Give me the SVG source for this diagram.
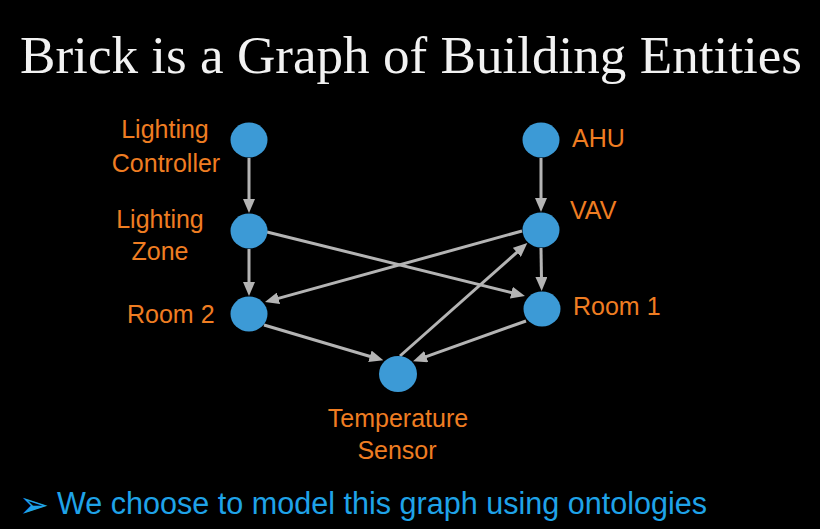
<svg xmlns="http://www.w3.org/2000/svg" width="820" height="529" viewBox="0 0 820 529">
<style>
.node{fill:#3c9ad6}
.lbl{font-family:"Liberation Sans",Arial,sans-serif;font-size:25px;fill:#ef7d22}
.edge{stroke:#b4b4b4;stroke-width:3;fill:none;marker-end:url(#ah)}
</style>
<defs>
<marker id="ah" viewBox="0 0 14 12" refX="3" refY="6" markerWidth="14" markerHeight="12" markerUnits="userSpaceOnUse" orient="auto">
<path d="M0,0 L14,6 L0,12 z" fill="#b4b4b4"/>
</marker>
</defs>
<rect width="820" height="529" fill="#000"/>
<text x="20" y="73" font-family="Liberation Serif,serif" font-size="52" fill="#f2f2f2" textLength="782" lengthAdjust="spacingAndGlyphs">Brick is a Graph of Building Entities</text>
<g id="connectors">
<line class="edge" x1="249" y1="158" x2="249" y2="202"/>
<line class="edge" x1="249" y1="249" x2="249" y2="285"/>
<line class="edge" x1="541" y1="158" x2="541" y2="201"/>
<line class="edge" x1="541" y1="248" x2="541.5" y2="280"/>
<line class="edge" x1="267" y1="232" x2="514.3" y2="293.3"/>
<line class="edge" x1="522" y1="231" x2="275.6" y2="299.1"/>
<line class="edge" x1="264" y1="325" x2="372.8" y2="357.2"/>
<line class="edge" x1="526" y1="321" x2="423.4" y2="357.6"/>
<line class="edge" x1="400" y1="356" x2="519.1" y2="250.4"/>
</g>
<g id="lighting-controller">
<ellipse class="node" cx="249" cy="140" rx="18.5" ry="17.5"/>
<text class="lbl" x="165" y="138" text-anchor="middle">Lighting</text>
<text class="lbl" x="166" y="172" text-anchor="middle">Controller</text>
</g>
<g id="lighting-zone">
<ellipse class="node" cx="249" cy="231" rx="18.5" ry="17.5"/>
<text class="lbl" x="160" y="228" text-anchor="middle">Lighting</text>
<text class="lbl" x="160" y="260" text-anchor="middle">Zone</text>
</g>
<g id="room-2">
<ellipse class="node" cx="249" cy="314" rx="18.5" ry="17.5"/>
<text class="lbl" x="127" y="323">Room 2</text>
</g>
<g id="ahu">
<ellipse class="node" cx="541" cy="140" rx="18.5" ry="17.5"/>
<text class="lbl" x="572" y="147">AHU</text>
</g>
<g id="vav">
<ellipse class="node" cx="541" cy="230" rx="18.5" ry="17.5"/>
<text class="lbl" x="570" y="219">VAV</text>
</g>
<g id="room-1">
<ellipse class="node" cx="542" cy="309" rx="18.5" ry="17.5"/>
<text class="lbl" x="573" y="315">Room 1</text>
</g>
<g id="temperature-sensor">
<ellipse class="node" cx="398" cy="374" rx="19" ry="18"/>
<text class="lbl" x="398" y="427" text-anchor="middle">Temperature</text>
<text class="lbl" x="397" y="459" text-anchor="middle">Sensor</text>
</g>
<text x="19" y="517" font-family="DejaVu Sans,sans-serif" font-size="36" fill="#1fa3e8">➢</text>
<text x="57" y="514" font-family="Liberation Sans,Arial,sans-serif" font-size="31" fill="#1fa3e8" textLength="650" lengthAdjust="spacingAndGlyphs">We choose to model this graph using ontologies</text>
</svg>
